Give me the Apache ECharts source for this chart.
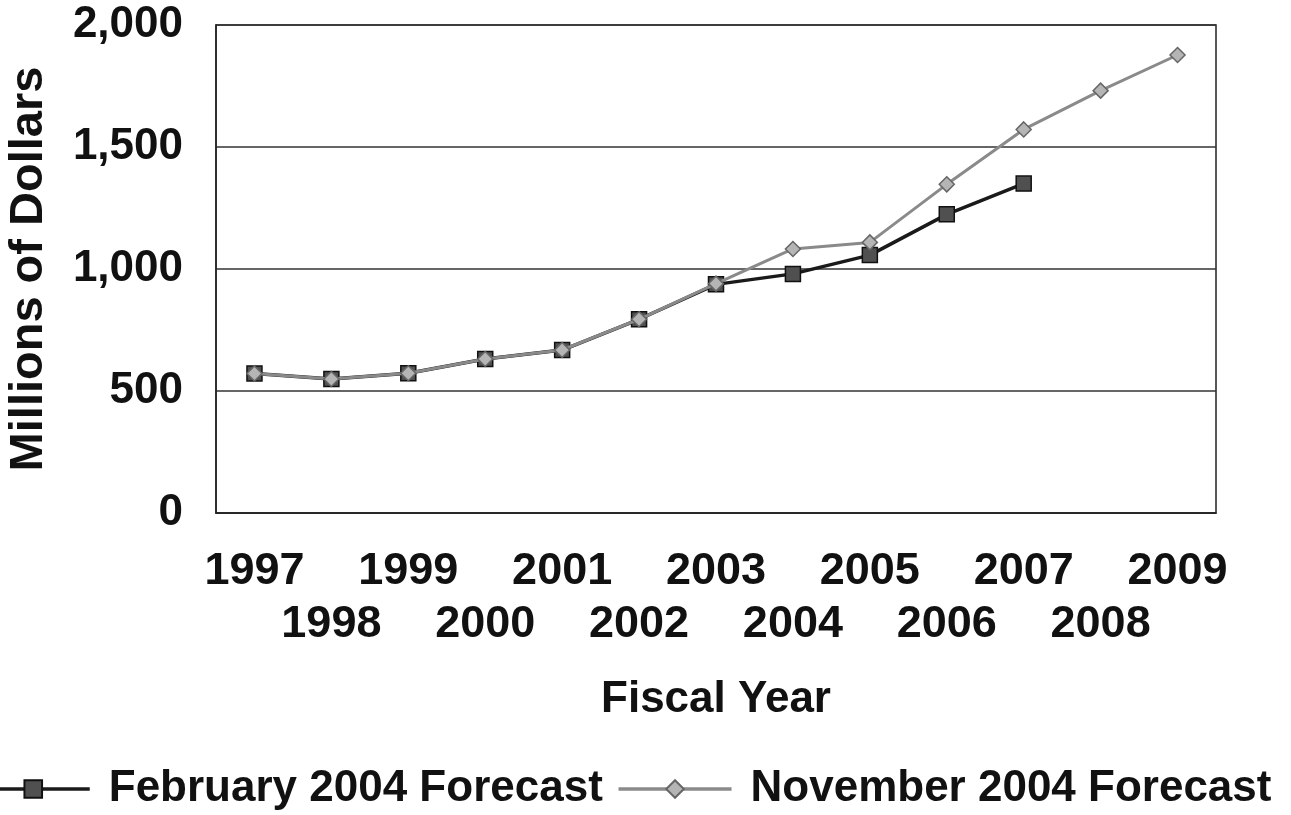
<!DOCTYPE html>
<html>
<head>
<meta charset="utf-8">
<script src="https://cdn.jsdelivr.net/npm/echarts@6/dist/echarts.min.js"></script>
<style>
html,body{margin:0;padding:0;background:#fff;}
#chart{width:1291px;height:815px;}
</style>
</head>
<body>
<div id="chart"></div>
<script>
var categories = ['1997','1998','1999','2000','2001','2002','2003','2004','2005','2006','2007','2008','2009'];
var feb2004 = [572, 549, 573, 631, 668, 794, 937, 980, 1057, 1224, 1350, null, null];
var nov2004 = [572, 549, 573, 631, 668, 794, 940, 1082, 1109, 1347, 1572, 1731, 1877];
var yTicks = [0, 500, 1000, 1500, 2000];
var seriesNames = ['February 2004 Forecast', 'November 2004 Forecast'];

var FONT = '"Liberation Sans", Arial, sans-serif';
var chart = echarts.init(document.getElementById('chart'));
chart.setOption({
  backgroundColor: '#fff',
  animation: false,
  grid: {left: 216, top: 25, right: 75, bottom: 302, show: true, borderColor: '#222', borderWidth: 1.5,
         containLabel: false, outerBoundsMode: 'none'},
  legend: {
    left: -30, top: 762,
    itemWidth: 113, itemHeight: 22, itemGap: 14,
    lineStyle: {width: 3.5},
    textStyle: {fontFamily: FONT, fontWeight: 'bold', fontSize: 44, color: '#111', padding: [0, 0, 0, 14]},
    data: seriesNames
  },
  xAxis: {
    type: 'category', data: categories, boundaryGap: true,
    axisLine: {show: true, lineStyle: {color: '#222', width: 1.5}},
    axisTick: {show: false},
    axisLabel: {
      interval: 0, margin: 32, fontFamily: FONT, fontWeight: 'bold', fontSize: 45, color: '#111', lineHeight: 53,
      formatter: function (v, i) { return i % 2 ? '\n' + v : v; }
    },
    name: 'Fiscal Year', nameLocation: 'middle', nameGap: 165,
    nameTextStyle: {fontFamily: FONT, fontWeight: 'bold', fontSize: 44, color: '#111'}
  },
  yAxis: {
    type: 'value', min: yTicks[0], max: yTicks[yTicks.length - 1], interval: 500,
    axisLine: {show: true, lineStyle: {color: '#222', width: 1.5}},
    axisTick: {show: false},
    splitLine: {show: true, lineStyle: {color: '#333', width: 1.5}},
    axisLabel: {
      margin: 33, fontFamily: FONT, fontWeight: 'bold', fontSize: 44, color: '#111',
      formatter: function (v) { return v.toLocaleString('en-US'); }
    },
    name: 'Millions of Dollars', nameLocation: 'middle', nameGap: 163, nameRotate: 90,
    nameTextStyle: {fontFamily: FONT, fontWeight: 'bold', fontSize: 47, color: '#111'}
  },
  series: [
    {
      name: seriesNames[0], type: 'line', data: feb2004, z: 2,
      symbol: 'rect', symbolSize: 15,
      lineStyle: {color: '#1a1a1a', width: 3.5},
      itemStyle: {color: '#505050', borderColor: '#111', borderWidth: 1.5}
    },
    {
      name: seriesNames[1], type: 'line', data: nov2004, z: 3,
      symbol: 'diamond', symbolSize: 15,
      lineStyle: {color: '#8a8a8a', width: 3},
      itemStyle: {color: '#b5b5b5', borderColor: '#666', borderWidth: 1.5}
    }
  ]
});
</script>
</body>
</html>
